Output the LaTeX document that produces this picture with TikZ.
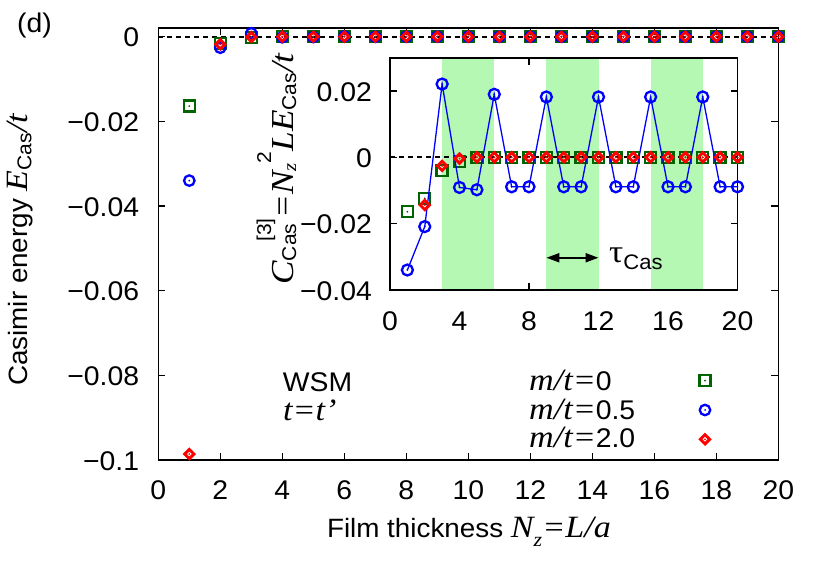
\documentclass[tikz,border=0pt]{standalone}
\usepackage{fontspec}
\usetikzlibrary{shapes.geometric,arrows.meta}
\newfontfamily\hv{Liberation Sans}[FakeStretch=1.05]
\newfontfamily\tmf{Liberation Serif}[FakeStretch=1.1]
\newcommand\fsz[1]{\fontsize{#1}{#1}\selectfont}
\newcommand\sans[2]{{\hv\fsz{#1}#2}}
\newcommand\ital[2]{{\tmf\itshape\fsz{#1}#2}}
\newcommand\shiftv[2]{\raisebox{#1}{#2}}
\definecolor{dkgreen}{RGB}{0,100,0}
\definecolor{bandgreen}{RGB}{180,248,180}
\begin{document}
\begin{tikzpicture}[x=1pt,y=1pt,
  axis/.style={line width=1.5pt, black},
  tickmark/.style={line width=1.2pt, black},
  ticklab/.style={inner sep=0pt, font=\hv\fsz{27}},
  zline/.style={line width=1.8pt, dash pattern=on 5pt off 4pt},
  sqm/.style={rectangle, draw=dkgreen, line width=2.4pt, minimum size=11pt, inner sep=0pt,
    path picture={\fill[dkgreen] (path picture bounding box.center) circle (1pt);}},
  cim/.style={circle, draw=blue, line width=2.3pt, minimum size=10.5pt, inner sep=0pt,
    path picture={\fill[blue] (path picture bounding box.center) circle (1pt);}},
  dim/.style={diamond, draw=red, line width=2.9pt, minimum size=10.5pt, inner sep=0pt,
    path picture={\fill[red] (path picture bounding box.center) circle (1pt);}},
  blueline/.style={blue, line width=1.3pt},
  txt/.style={inner sep=0pt}]
\fill[white] (0,0) rectangle (830,581);
\useasboundingbox (0,0) rectangle (830,581);

% ---------------- main plot ----------------
\begin{scope}[shift={(158.3,544.3)}, x=31pt, y=4233pt]
  \draw[axis] (0,-0.1) rectangle (20,0.002);
  \foreach \i in {0,2,...,20} {
    \draw[tickmark] (\i,-0.1) -- ++(0pt,7pt);
    \draw[tickmark] (\i,0.002) -- ++(0pt,-7pt);
    \path (\i,-0.1) ++(0pt,-30pt) node[ticklab] (mx\i) {\i};
  }
  \foreach \v/\l [count=\k] in {0/0, -0.02/−0.02, -0.04/−0.04, -0.06/−0.06, -0.08/−0.08, -0.1/−0.1} {
    \draw[tickmark] (0,\v) -- ++(7pt,0pt);
    \draw[tickmark] (20,\v) -- ++(-7pt,0pt);
    \path (0,\v) ++(-19pt,-1pt) node[ticklab, anchor=east] (my\k) {\l};
  }
  \draw[zline] (0,0) -- (20,0);
  % m/t = 0
  \foreach \n/\c in {1/-0.0164, 2/-0.0124, 3/-0.0040, 4/-0.0013}
    \node[sqm] (mg\n) at (\n,{\c/(\n*\n*\n)}) {};
  \foreach \n in {5,...,20}
    \node[sqm] (mg\n) at (\n,0) {};
  % m/t = 0.5
  \foreach \n/\c in {1/-0.0340, 2/-0.0209, 3/0.0221, 4/-0.0091, 5/-0.0098, 6/0.0190,
      7/-0.0089, 8/-0.0089, 9/0.0182, 10/-0.0089, 11/-0.0089, 12/0.0182, 13/-0.0089,
      14/-0.0089, 15/0.0182, 16/-0.0089, 17/-0.0089, 18/0.0182, 19/-0.0089, 20/-0.0089}
    \node[cim] (mb\n) at (\n,{\c/(\n*\n*\n)}) {};
  % m/t = 2.0
  \foreach \n/\c in {1/-0.0986, 2/-0.0144, 3/-0.0026, 4/-0.0004}
    \node[dim] (mr\n) at (\n,{\c/(\n*\n*\n)}) {};
  \foreach \n in {5,...,20}
    \node[dim] (mr\n) at (\n,0) {};
\end{scope}

% axis labels, panel label
\node[txt, rotate=90, anchor=base] (ylab) at (27.3,331)
  {\sans{26.5}{Casimir energy }\ital{31}{E}\shiftv{-4pt}{\sans{20}{Cas}}\ital{31}{/t}};
\node[txt, anchor=base] (xlab) at (468.9,43.7)
  {\sans{26.5}{Film thickness }\ital{31}{N}\shiftv{-9pt}{\ital{20}{z}}\ital{31}{=L/a}};
\node[txt] (panel) at (34.5,555) {\sans{27}{(d)}};

% legend
\node[txt, anchor=base west] (wsm) at (282.7,189.3) {\sans{27}{WSM}};
\node[txt, anchor=base west] (tt) at (283,160) {\ital{31}{t=t’}};
\node[txt, anchor=base west] (l1) at (529,190.3) {\ital{31}{m/t=}\sans{27}{0}};
\node[txt, anchor=base west] (l2) at (529,161.7) {\ital{31}{m/t=}\sans{27}{0.5}};
\node[txt, anchor=base west] (l3) at (529,133.7) {\ital{31}{m/t=}\sans{27}{2.0}};
\node[sqm] (k1) at (705,200.3) {};
\node[cim] (k2) at (705,171) {};
\node[dim] (k3) at (705,141.7) {};

% ---------------- inset ----------------
\begin{scope}[shift={(390,423.7)}, x=17.375pt, y=3315pt]
  \fill[white] (0,-0.04) rectangle (20,0.03);
  \foreach \i in {0,4,...,20} {
    \draw[tickmark] (\i,-0.04) -- ++(0pt,7pt);
    \draw[tickmark] (\i,0.03) -- ++(0pt,-7pt);
    \path (\i,-0.04) ++(0pt,-31pt) node[ticklab] (ix\i) {\i};
  }
  \foreach \v/\l [count=\k] in {0.02/0.02, 0/0, -0.02/−0.02, -0.04/−0.04} {
    \draw[tickmark] (0,\v) -- ++(7pt,0pt);
    \draw[tickmark] (20,\v) -- ++(-7pt,0pt);
    \path (0,\v) ++(-18pt,-1pt) node[ticklab, anchor=east] (iy\k) {\l};
  }
  \foreach \a in {3,9,15}
    \fill[bandgreen] (\a,-0.04) rectangle ++(3,0.07);
  \draw[axis] (0,-0.04) rectangle (20,0.03);
  \draw[zline] (0,0) -- (20,0);
  % m/t = 0
  \foreach \n/\c in {1/-0.0164, 2/-0.0124, 3/-0.0040, 4/-0.0013}
    \node[sqm] (ig\n) at (\n,\c) {};
  \foreach \n in {5,...,20}
    \node[sqm] (ig\n) at (\n,0) {};
  % m/t = 0.5
  \foreach \n/\c in {1/-0.0340, 2/-0.0209, 3/0.0221, 4/-0.0091, 5/-0.0098, 6/0.0190,
      7/-0.0089, 8/-0.0089, 9/0.0182, 10/-0.0089, 11/-0.0089, 12/0.0182, 13/-0.0089,
      14/-0.0089, 15/0.0182, 16/-0.0089, 17/-0.0089, 18/0.0182, 19/-0.0089, 20/-0.0089}
    \coordinate (ibc\n) at (\n,\c);
  \draw[blueline] (ibc1) \foreach \n in {2,...,20} { -- (ibc\n) };
  \foreach \n in {1,...,20}
    \node[cim, minimum size=11pt] (ib\n) at (ibc\n) {};
  % m/t = 2.0
  \foreach \n/\c in {2/-0.0144, 3/-0.0026, 4/-0.0004}
    \node[dim] (ir\n) at (\n,\c) {};
  \foreach \n in {5,...,20}
    \node[dim] (ir\n) at (\n,0) {};
  % period arrow
  \coordinate (aL) at (9,-0.0303);
  \coordinate (aR) at (12,-0.0303);
  \draw[line width=2pt, {Triangle[length=13pt,width=9pt]}-{Triangle[length=13pt,width=9pt]}] (aL) -- (aR);
  \node[txt, anchor=base west] (tau) at ([xshift=10.5pt,yshift=-5pt]aR)
    {{\tmf\fsz{32}τ}\shiftv{-7pt}{\sans{21}{Cas}}};
\end{scope}

\node[txt, rotate=90, anchor=base] (iylab) at (293,412)
  {\ital{32}{C}\shiftv{-3pt}{\sans{20}{Cas}}\kern-18pt\shiftv{22pt}{\sans{20}{[3]}}\ital{32}{=N}\shiftv{-3pt}{\ital{19}{z}}\shiftv{22pt}{\sans{20}{2}}\ital{32}{LE}\shiftv{-3pt}{\sans{20}{Cas}}\ital{32}{/t}};
\end{tikzpicture}
\end{document}
